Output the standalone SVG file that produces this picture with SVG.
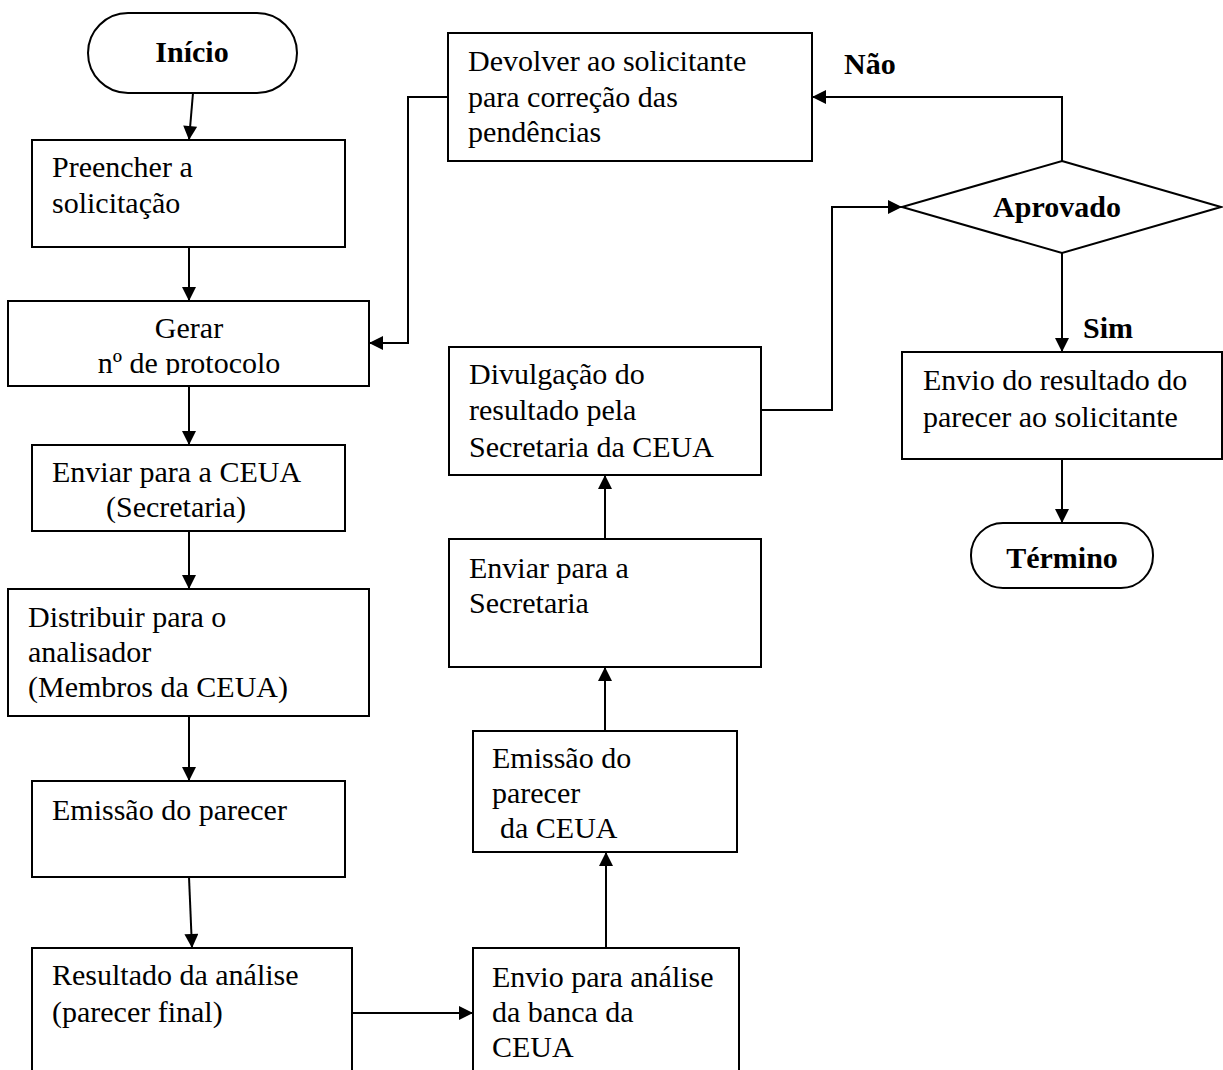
<svg xmlns="http://www.w3.org/2000/svg" width="1223" height="1070" viewBox="0 0 1223 1070">
<style>
.box{fill:#fff;stroke:#000;stroke-width:2}
.t{font-family:"Liberation Serif","Times New Roman",serif;font-size:30px;fill:#000}
.b{font-weight:bold}
.c{text-anchor:middle}
.ln{fill:none;stroke:#000;stroke-width:2}
</style>
<defs>
<marker id="ah" viewBox="0 0 10 10" refX="10" refY="5" markerWidth="15" markerHeight="14" markerUnits="userSpaceOnUse" orient="auto">
<path d="M0,0 L10,5 L0,10 z" fill="#000"/>
</marker>
<clipPath id="clipGerar"><rect x="8" y="301" width="361" height="74"/></clipPath>
</defs>
<rect width="1223" height="1070" fill="#fff"/>

<g id="connectors">
<path class="ln" marker-end="url(#ah)" d="M193,93 L189,140"/>
<path class="ln" marker-end="url(#ah)" d="M189,247 L189,301"/>
<path class="ln" marker-end="url(#ah)" d="M189,386 L189,445"/>
<path class="ln" marker-end="url(#ah)" d="M189,531 L189,589"/>
<path class="ln" marker-end="url(#ah)" d="M189,716 L189,781"/>
<path class="ln" marker-end="url(#ah)" d="M189,877 L192,948"/>
<path class="ln" marker-end="url(#ah)" d="M352,1013 L473,1013"/>
<path class="ln" marker-end="url(#ah)" d="M606,948 L606,852"/>
<path class="ln" marker-end="url(#ah)" d="M605,731 L605,667"/>
<path class="ln" marker-end="url(#ah)" d="M605,539 L605,475"/>
<path class="ln" marker-end="url(#ah)" d="M761,410 L832,410 L832,207 L902,207"/>
<path class="ln" marker-end="url(#ah)" d="M1062,161 L1062,97 L812,97"/>
<path class="ln" marker-end="url(#ah)" d="M448,97 L408,97 L408,343 L369,343"/>
<path class="ln" marker-end="url(#ah)" d="M1062,253 L1062,352"/>
<path class="ln" marker-end="url(#ah)" d="M1062,459 L1062,523"/>
<text class="t b" x="844" y="74">Não</text>
<text class="t b" x="1083" y="338">Sim</text>
</g>

<g id="inicio">
<rect class="box" x="88" y="13" width="209" height="80" rx="40" ry="40"/>
<text class="t b c" x="192" y="62">Início</text>
</g>

<g id="preencher">
<rect class="box" x="32" y="140" width="313" height="107"/>
<text class="t" x="52" y="177">Preencher a</text>
<text class="t" x="52" y="213">solicitação</text>
</g>

<g id="gerar">
<rect class="box" x="8" y="301" width="361" height="85"/>
<g clip-path="url(#clipGerar)">
<text class="t c" x="189" y="338">Gerar</text>
<text class="t c" x="189" y="373">nº de protocolo</text>
</g>
</g>

<g id="enviar-ceua">
<rect class="box" x="32" y="445" width="313" height="86"/>
<text class="t" x="52" y="482">Enviar para a CEUA</text>
<text class="t" x="106" y="517">(Secretaria)</text>
</g>

<g id="distribuir">
<rect class="box" x="8" y="589" width="361" height="127"/>
<text class="t" x="28" y="627">Distribuir para o</text>
<text class="t" x="28" y="662">analisador</text>
<text class="t" x="28" y="697">(Membros da CEUA)</text>
</g>

<g id="emissao-parecer">
<rect class="box" x="32" y="781" width="313" height="96"/>
<text class="t" x="52" y="820">Emissão do parecer</text>
</g>

<g id="resultado">
<rect class="box" x="32" y="948" width="320" height="130"/>
<text class="t" x="52" y="985">Resultado da análise</text>
<text class="t" x="52" y="1022">(parecer final)</text>
</g>

<g id="envio-analise">
<rect class="box" x="473" y="948" width="266" height="130"/>
<text class="t" x="492" y="987">Envio para análise</text>
<text class="t" x="492" y="1022">da banca da</text>
<text class="t" x="492" y="1057">CEUA</text>
</g>

<g id="emissao-ceua">
<rect class="box" x="473" y="731" width="264" height="121"/>
<text class="t" x="492" y="768">Emissão do</text>
<text class="t" x="492" y="803">parecer</text>
<text class="t" x="500" y="838">da CEUA</text>
</g>

<g id="enviar-secretaria">
<rect class="box" x="449" y="539" width="312" height="128"/>
<text class="t" x="469" y="578">Enviar para a</text>
<text class="t" x="469" y="613">Secretaria</text>
</g>

<g id="divulgacao">
<rect class="box" x="449" y="347" width="312" height="128"/>
<text class="t" x="469" y="384">Divulgação do</text>
<text class="t" x="469" y="420">resultado pela</text>
<text class="t" x="469" y="457">Secretaria da CEUA</text>
</g>

<g id="devolver">
<rect class="box" x="448" y="33" width="364" height="128"/>
<text class="t" x="468" y="71">Devolver ao solicitante</text>
<text class="t" x="468" y="107">para correção das</text>
<text class="t" x="468" y="142">pendências</text>
</g>

<g id="aprovado">
<polygon class="box" points="1062,161 1221,207 1062,253 902,207"/>
<text class="t b c" x="1057" y="217">Aprovado</text>
</g>

<g id="envio-resultado">
<rect class="box" x="902" y="352" width="320" height="107"/>
<text class="t" x="923" y="390">Envio do resultado do</text>
<text class="t" x="923" y="427">parecer ao solicitante</text>
</g>

<g id="termino">
<rect class="box" x="971" y="523" width="182" height="65" rx="32" ry="32"/>
<text class="t b c" x="1062" y="568">Término</text>
</g>
</svg>
